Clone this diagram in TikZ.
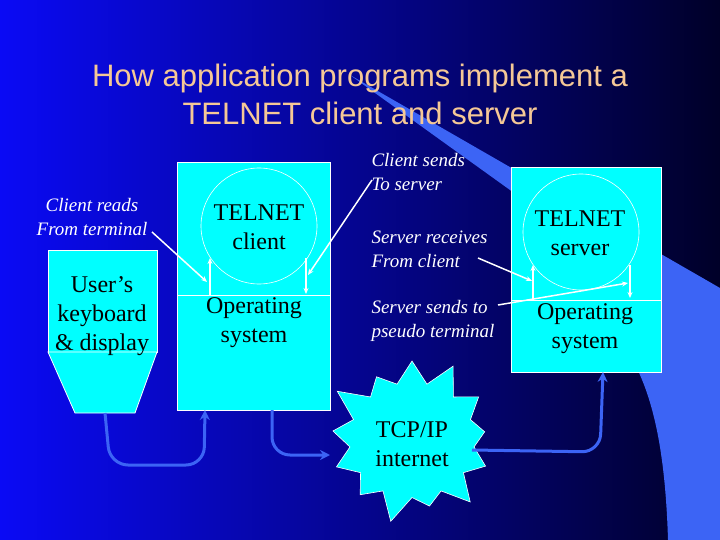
\documentclass[tikz,border=0pt]{standalone}
\usepackage{fontspec}
\setmainfont{Liberation Serif}
\newfontfamily\titlefont{Liberation Sans}
\usetikzlibrary{shapes.symbols,arrows.meta}
\definecolor{bgl}{RGB}{10,10,245}
\definecolor{bgr}{RGB}{0,0,40}
\definecolor{deco}{RGB}{60,100,245}
\definecolor{boxc}{RGB}{0,255,255}
\definecolor{titlec}{RGB}{245,200,150}
\tikzset{
 box/.style={fill=boxc,draw=white,line width=0.8pt},
 btext/.style={font=\fontsize{24}{29}\selectfont,align=center,text=black},
 lab/.style={font=\itshape\fontsize{19}{24}\selectfont,align=left,text=white,anchor=west},
 wline/.style={draw=white,line width=1.5pt},
 warr/.style={draw=white,line width=1.3pt,-{Stealth[length=6pt,width=5pt]}},
 barr/.style={draw=deco,line width=3pt,rounded corners=18pt,-{Stealth[length=10pt,width=10pt]}}
}
\begin{document}
\begin{tikzpicture}[x=1pt,y=-1pt]
\shade[left color=bgl,right color=bgr] (0,0) rectangle (720,540);
\useasboundingbox (0,0) rectangle (720,540);
\fill[deco] (350,75) -- (720,288) -- (720,540) -- (668,540) .. controls (665,440) and (650,390) .. (630,355) -- (560,240) -- (510,190) -- cycle;
% title
\node[font=\titlefont\fontsize{31}{38}\selectfont,text=titlec,align=center] (title) at (360,94) {How application programs implement a\\TELNET client and server};
% keyboard
\draw[box] (48,250) rectangle (157,352);
\draw[box] (48,352) -- (157,352) -- (135,413) -- (75,413) -- cycle;
\node[btext] (kbd) at (102,316) {User’s\\keyboard\\\& display};
\coordinate (kbdb) at (105,413);
% client
\draw[box] (177,162) rectangle (330,410);
\draw[white,line width=0.8pt] (177,295) -- (330,295);
\draw[white,line width=0.6pt] (259,226) circle (58);
\node[btext] (cli) at (259,227) {TELNET\\client};
\node[btext] (cos) at (254,323) {Operating\\system};
\coordinate (cbot) at (205,410);
\coordinate (cbot2) at (272,410);
% server
\draw[box] (511,167) rectangle (661,372);
\draw[white,line width=0.8pt] (511,300) -- (661,300);
\draw[white,line width=0.6pt] (581,232) circle (58);
\node[btext] (srv) at (580,233) {TELNET\\server};
\node[btext] (sos) at (585,329) {Operating\\system};
\coordinate (sbot) at (603,372);
% arrows inside
\draw[warr] (210,295) -- (210,258);
\draw[warr] (306,258) -- (306,294);
\draw[warr] (533,300) -- (533,265);
\draw[warr] (630,265) -- (630,298);
% labels
\node[font=\itshape\fontsize{19}{24}\selectfont,text=white,align=center] (l1) at (92,217) {Client reads\\From terminal};
\node[lab] (l2) at (368,172) {Client sends\\To server};
\node[lab] (l3) at (368,249) {Server receives\\From client};
\node[lab] (l4) at (368,321) {Server sends to\\pseudo terminal};
\draw[wline,-{Stealth[length=6pt,width=5pt]}] (152,232) -- (207,282);
\draw[wline,-{Stealth[length=6pt,width=5pt]}] (372,180) -- (308,275);
\draw[wline,-{Stealth[length=6pt,width=5pt]}] (478,258) -- (532,281);
\draw[wline,-{Stealth[length=6pt,width=5pt]}] (498,305) -- (628,283);
% starburst
\node[starburst,starburst points=13,starburst point height=30pt,fill=boxc,draw=white,line width=0.6pt,minimum width=185pt,minimum height=175pt,inner sep=0pt] (net) at (412,440) {};
\node[btext] (nett) at (412,444) {TCP/IP\\internet};
% blue connectors
\draw[barr] (kbdb) -- (110,465) -- (204,465) -- (cbot);
\draw[barr] (cbot2) -- (272,455) -- (330,455);
\draw[barr] (472,450) -- (600,452) -- (sbot);
\end{tikzpicture}
\end{document}
